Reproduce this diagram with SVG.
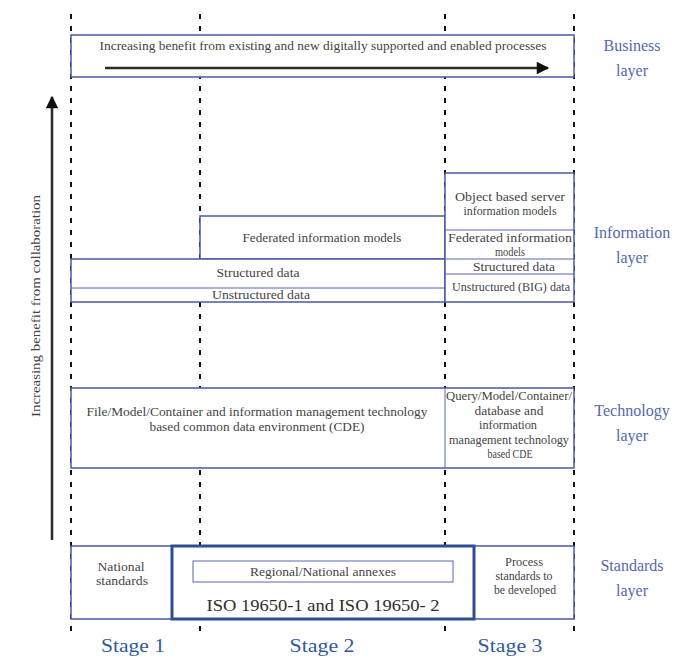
<svg xmlns="http://www.w3.org/2000/svg" width="687" height="658" viewBox="0 0 687 658">
  <style>
    .box { fill: #ffffff; stroke: #4b58a3; stroke-width: 1.5; }
    .thin { fill: none; stroke: #5a66ad; stroke-width: 1; }
    .thick { fill: none; stroke: #2c4f93; stroke-width: 3; }
    .stage-line { stroke: #111111; stroke-width: 2; stroke-dasharray: 5 7; }
    .txt { font-family: "Liberation Serif", "DejaVu Serif", serif; font-size: 11.5px; fill: #444444; text-anchor: middle; }
    .layer { font-family: "Liberation Serif", "DejaVu Serif", serif; font-size: 16px; fill: #5468ad; text-anchor: middle; }
    .stage { font-family: "Liberation Serif", "DejaVu Serif", serif; font-size: 18px; fill: #2d5b9c; text-anchor: middle; }
    .iso { font-family: "Liberation Serif", "DejaVu Serif", serif; font-size: 17px; fill: #2e2e2e; text-anchor: middle; }
    .arrow { stroke: #2a2a2a; stroke-width: 2.5; fill: none; }
  </style>
  <defs>
    <marker id="head" viewBox="0 0 10 10" refX="9" refY="5" markerWidth="5.5" markerHeight="5" orient="auto" markerUnits="strokeWidth">
      <path d="M0,0 L10,5 L0,10 Z" fill="#111111"/>
    </marker>
  </defs>

  <rect width="687" height="658" fill="#ffffff"/>

  <!-- stage boundaries and benefit arrows -->
  <g id="connectors">
    <line class="stage-line" x1="71" y1="14" x2="71" y2="632"/>
    <line class="stage-line" x1="200" y1="14" x2="200" y2="632"/>
    <line class="stage-line" x1="445" y1="14" x2="445" y2="632"/>
    <line class="stage-line" x1="574" y1="14" x2="574" y2="632"/>
    <line class="arrow" x1="52" y1="540" x2="52" y2="97" marker-end="url(#head)"/>
  </g>

  <text class="txt" transform="translate(40,306) rotate(-90)" textLength="222" lengthAdjust="spacingAndGlyphs">Increasing benefit from collaboration</text>

  <!-- business layer -->
  <g id="business">
    <rect class="box" x="71" y="35" width="503" height="42" stroke-width="2"/>
    <text class="txt" x="323" y="50" textLength="447" lengthAdjust="spacingAndGlyphs">Increasing benefit from existing and new digitally supported and enabled processes</text>
    <line class="arrow" x1="105" y1="68" x2="548" y2="68" marker-end="url(#head)"/>
  </g>

  <!-- information layer -->
  <g id="information">
    <rect class="box" x="200" y="216" width="245" height="43"/>
    <text class="txt" x="322" y="242" textLength="159" lengthAdjust="spacingAndGlyphs">Federated information models</text>
    <rect class="box" x="71" y="259" width="374" height="43" stroke-width="2"/>
    <line class="thin" x1="71" y1="288" x2="445" y2="288"/>
    <text class="txt" x="258" y="277" textLength="83" lengthAdjust="spacingAndGlyphs">Structured data</text>
    <text class="txt" x="261" y="299" textLength="98" lengthAdjust="spacingAndGlyphs">Unstructured data</text>
    <rect class="box" x="445" y="173" width="129" height="129" stroke-width="2"/>
    <line class="thin" x1="445" y1="230" x2="574" y2="230"/>
    <line class="thin" x1="445" y1="259" x2="574" y2="259"/>
    <line class="thin" x1="445" y1="274" x2="574" y2="274"/>
    <text class="txt" x="510" y="201" textLength="110" lengthAdjust="spacingAndGlyphs">Object based server</text>
    <text class="txt" x="510" y="215" textLength="93" lengthAdjust="spacingAndGlyphs">information models</text>
    <text class="txt" x="510" y="242" textLength="124" lengthAdjust="spacingAndGlyphs">Federated information</text>
    <text class="txt" x="510" y="256" textLength="30" lengthAdjust="spacingAndGlyphs">models</text>
    <text class="txt" x="514" y="271" textLength="82" lengthAdjust="spacingAndGlyphs">Structured data</text>
    <text class="txt" x="511" y="291" textLength="118" lengthAdjust="spacingAndGlyphs">Unstructured (BIG) data</text>
  </g>

  <!-- technology layer -->
  <g id="technology">
    <rect class="box" x="71" y="388" width="503" height="80"/>
    <line class="thin" x1="445" y1="388" x2="445" y2="468"/>
    <text class="txt" x="257" y="416" textLength="341" lengthAdjust="spacingAndGlyphs">File/Model/Container and information management technology</text>
    <text class="txt" x="257" y="431" textLength="215" lengthAdjust="spacingAndGlyphs">based common data environment (CDE)</text>
    <text class="txt" x="509" y="400" textLength="126" lengthAdjust="spacingAndGlyphs">Query/Model/Container/</text>
    <text class="txt" x="509" y="415" textLength="69" lengthAdjust="spacingAndGlyphs">database and</text>
    <text class="txt" x="508" y="429" textLength="58" lengthAdjust="spacingAndGlyphs">information</text>
    <text class="txt" x="509" y="444" textLength="120" lengthAdjust="spacingAndGlyphs">management technology</text>
    <text class="txt" x="510" y="458" textLength="45" lengthAdjust="spacingAndGlyphs">based CDE</text>
  </g>

  <!-- standards layer -->
  <g id="standards">
    <rect class="box" x="71" y="546" width="503" height="73"/>
    <text class="txt" x="121" y="571" textLength="47" lengthAdjust="spacingAndGlyphs">National</text>
    <text class="txt" x="122" y="585" textLength="52" lengthAdjust="spacingAndGlyphs">standards</text>
    <rect x="172" y="546" width="302" height="73" fill="#ffffff" class="thick"/>
    <rect class="thin" x="193" y="561" width="260" height="21"/>
    <text class="txt" x="323" y="576" textLength="146" lengthAdjust="spacingAndGlyphs">Regional/National annexes</text>
    <text class="iso" x="323" y="611" textLength="233" lengthAdjust="spacingAndGlyphs">ISO 19650-1 and ISO 19650- 2</text>
    <text class="txt" x="524" y="566" textLength="38" lengthAdjust="spacingAndGlyphs">Process</text>
    <text class="txt" x="524" y="580" textLength="57" lengthAdjust="spacingAndGlyphs">standards to</text>
    <text class="txt" x="525" y="594" textLength="62" lengthAdjust="spacingAndGlyphs">be developed</text>
  </g>

  <!-- layer names -->
  <g id="layer-labels">
    <text class="layer" x="632" y="51">Business</text>
    <text class="layer" x="632" y="76">layer</text>
    <text class="layer" x="632" y="238">Information</text>
    <text class="layer" x="632" y="263">layer</text>
    <text class="layer" x="632" y="416">Technology</text>
    <text class="layer" x="632" y="441">layer</text>
    <text class="layer" x="632" y="571">Standards</text>
    <text class="layer" x="632" y="596">layer</text>
  </g>

  <!-- stage names -->
  <g id="stage-labels">
    <text class="stage" x="133" y="652" textLength="64" lengthAdjust="spacingAndGlyphs">Stage 1</text>
    <text class="stage" x="322" y="652" textLength="65" lengthAdjust="spacingAndGlyphs">Stage 2</text>
    <text class="stage" x="510" y="652" textLength="65" lengthAdjust="spacingAndGlyphs">Stage 3</text>
  </g>
</svg>
